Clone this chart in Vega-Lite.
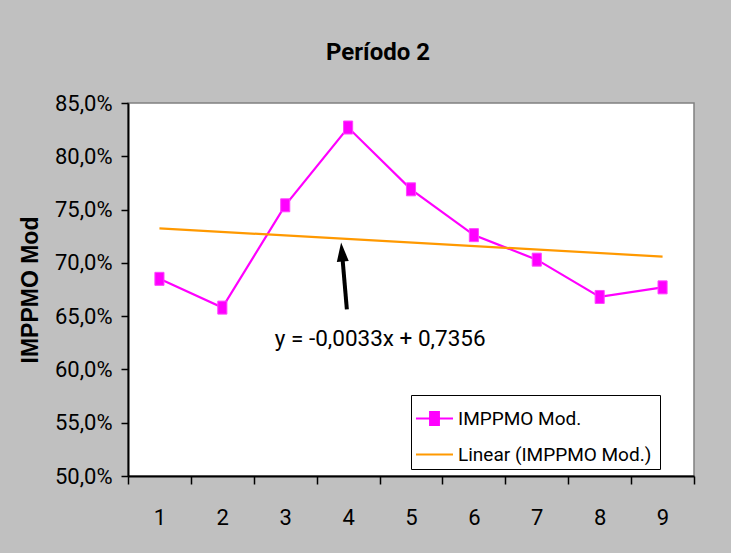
{
  "$schema": "https://vega.github.io/schema/vega-lite/v6.json",
  "autosize": {"type": "none"},
  "width": 566,
  "height": 373,
  "padding": {"left": 128, "top": 103, "right": 37, "bottom": 77},
  "background": "#c0c0c0",
  "config": {
    "view": {"fill": "white", "stroke": "#808080", "strokeWidth": 1.5},
    "font": "Roboto"
  },
  "title": {
    "text": "Período 2",
    "font": "Roboto",
    "fontSize": 24,
    "fontWeight": "bold",
    "color": "black",
    "anchor": "middle",
    "frame": "group",
    "dx": -33,
    "offset": 27
  },
  "datasets": {
    "series": [
      {"x": 1, "v": 0.685, "s": "IMPPMO  Mod."},
      {"x": 2, "v": 0.658, "s": "IMPPMO  Mod."},
      {"x": 3, "v": 0.754, "s": "IMPPMO  Mod."},
      {"x": 4, "v": 0.827, "s": "IMPPMO  Mod."},
      {"x": 5, "v": 0.769, "s": "IMPPMO  Mod."},
      {"x": 6, "v": 0.726, "s": "IMPPMO  Mod."},
      {"x": 7, "v": 0.703, "s": "IMPPMO  Mod."},
      {"x": 8, "v": 0.668, "s": "IMPPMO  Mod."},
      {"x": 9, "v": 0.677, "s": "IMPPMO  Mod."},
      {"x": 1, "v": 0.7323, "s": "Linear (IMPPMO  Mod.)"},
      {"x": 9, "v": 0.7059, "s": "Linear (IMPPMO  Mod.)"}
    ],
    "arrow": [
      {"ax": 3.98, "ay": 0.6564, "bx": 3.902, "by": 0.7102}
    ],
    "note": [
      {"nx": 4.51, "ny": 0.629, "label": "y = -0,0033x + 0,7356"}
    ]
  },
  "layer": [
    {
      "data": {"name": "series"},
      "mark": {"type": "line", "strokeWidth": 2.2},
      "encoding": {
        "x": {
          "field": "x",
          "type": "quantitative",
          "scale": {"domain": [0.5, 9.5], "nice": false, "zero": false},
          "axis": {
            "title": null,
            "values": [0.5, 1.5, 2.5, 3.5, 4.5, 5.5, 6.5, 7.5, 8.5, 9.5],
            "labelExpr": "datum.value > 9 ? '' : format(datum.value + 0.5, 'd')",
            "labelOffset": 31.4,
            "labelFlush": false,
            "labelOverlap": false,
            "labelFont": "Roboto",
            "labelFontSize": 22,
            "labelColor": "black",
            "labelPadding": 23,
            "tickSize": 8,
            "tickColor": "black",
            "tickWidth": 1.5,
            "domainColor": "black",
            "domainWidth": 2,
            "grid": false
          }
        },
        "y": {
          "field": "v",
          "type": "quantitative",
          "scale": {"domain": [0.5, 0.85], "nice": false, "zero": false},
          "axis": {
            "title": "IMPPMO Mod",
            "titleFont": "Liberation Sans",
            "titleFontSize": 23,
            "titleFontWeight": "bold",
            "titleColor": "black",
            "titlePadding": 12,
            "values": [0.5, 0.55, 0.6, 0.65, 0.7, 0.75, 0.8, 0.85],
            "labelExpr": "replace(format(datum.value, '.1%'), '.', ',')",
            "labelFlush": false,
            "labelFont": "Roboto",
            "labelFontSize": 22,
            "labelColor": "black",
            "labelPadding": 9,
            "tickSize": 7,
            "tickColor": "black",
            "tickWidth": 1.5,
            "domainColor": "black",
            "domainWidth": 2,
            "grid": false
          }
        },
        "color": {
          "field": "s",
          "type": "nominal",
          "scale": {
            "domain": ["IMPPMO  Mod.", "Linear (IMPPMO  Mod.)"],
            "range": ["#ff00ff", "#ff9900"]
          },
          "legend": {
            "title": null,
            "orient": "none",
            "legendX": 283,
            "legendY": 292,
            "fillColor": "white",
            "strokeColor": "black",
            "padding": 4,
            "symbolType": "M-1,0H1",
            "symbolSize": 1369,
            "symbolStrokeWidth": 2,
            "symbolFillColor": "#ff00ff",
            "labelFont": "Roboto",
            "labelFontSize": 19,
            "labelLimit": 400,
            "labelColor": "black",
            "labelOffset": 4,
            "rowPadding": 6,
            "encode": {
              "symbols": {
                "update": {
                  "shape": {"signal": "datum.label == 'IMPPMO  Mod.' ? 'M-1,0H1M-0.24,-0.35H0.24V0.35H-0.24Z' : 'M-1,0H1'"}
                }
              }
            }
          }
        }
      }
    },
    {
      "data": {"name": "series"},
      "transform": [{"filter": "datum.s === 'IMPPMO  Mod.'"}],
      "mark": {
        "type": "point",
        "shape": "M-0.7,-1H0.7V1H-0.7Z",
        "size": 169,
        "filled": true,
        "fill": "#ff00ff",
        "stroke": "#ff44ff",
        "strokeWidth": 1,
        "opacity": 1
      },
      "encoding": {
        "x": {"field": "x", "type": "quantitative"},
        "y": {"field": "v", "type": "quantitative"}
      }
    },
    {
      "data": {"name": "arrow"},
      "mark": {"type": "rule", "color": "black", "strokeWidth": 4},
      "encoding": {
        "x": {"field": "ax", "type": "quantitative"},
        "y": {"field": "ay", "type": "quantitative"},
        "x2": {"field": "bx"},
        "y2": {"field": "by"}
      }
    },
    {
      "data": {"name": "arrow"},
      "mark": {
        "type": "point",
        "shape": "M0,-1L0.63,1L-0.63,1Z",
        "size": 361,
        "filled": true,
        "color": "black",
        "opacity": 1,
        "angle": -5
      },
      "encoding": {
        "x": {"field": "bx", "type": "quantitative"},
        "y": {"field": "by", "type": "quantitative"}
      }
    },
    {
      "data": {"name": "note"},
      "mark": {
        "type": "text",
        "font": "Roboto",
        "fontSize": 22.5,
        "color": "black",
        "align": "center",
        "baseline": "middle"
      },
      "encoding": {
        "x": {"field": "nx", "type": "quantitative"},
        "y": {"field": "ny", "type": "quantitative"},
        "text": {"field": "label"}
      }
    }
  ]
}
